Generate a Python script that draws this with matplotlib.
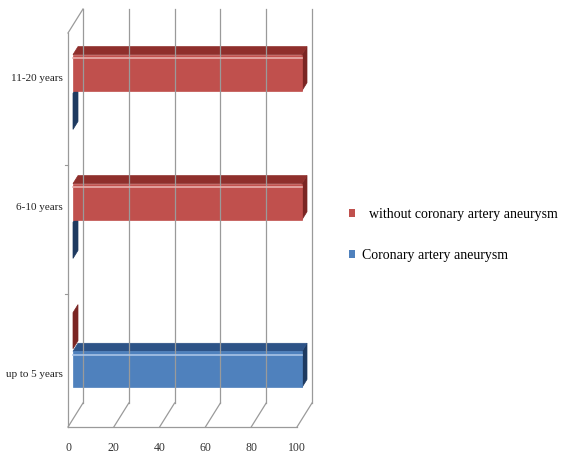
import numpy as np
import matplotlib
matplotlib.use("Agg")
import matplotlib.pyplot as plt
from matplotlib.patches import Polygon, Patch

# ---- data ----
CATEGORIES = ["up to 5 years", "6-10 years", "11-20 years"]
SERIES = ["  without coronary artery aneurysm", "Coronary artery aneurysm"]
WITHOUT_CAA = [0, 100, 100]
WITH_CAA = [100, 0, 0]
X_TICKS = [0, 20, 40, 60, 80, 100]

# ---- 3d-ish look (Excel style) ----
RED = {"front": "#C0504D", "top": "#8F2F2C", "side": "#7A2523", "hi": "#E8AFAD"}
BLUE = {"front": "#4F81BD", "top": "#2D5387", "side": "#1E3A60", "hi": "#A9C4E6"}
GRID = "#9A9A9A"
SERIF = "Liberation Serif"

W, H = 565, 461
fig = plt.figure(figsize=(W / 100, H / 100), dpi=100)

# pixel geometry of the reference
px_per_x = 2.29          # px per value unit
px_per_y = 129.0         # px per category
x0_px, y0_px = 68, 103   # front plane: x=0, category 0 (from bottom)
ax_l, ax_r, ax_b, ax_t = 0, 340, 0, 461
ax = fig.add_axes([ax_l / W, ax_b / H, (ax_r - ax_l) / W, (ax_t - ax_b) / H])
ax.set_xlim((ax_l - x0_px) / px_per_x, (ax_r - x0_px) / px_per_x)
ax.set_ylim((ax_b - y0_px) / px_per_y, (ax_t - y0_px) / px_per_y)
ax.axis("off")

DX = 15 / px_per_x       # full depth offset in data units
DY = 24 / px_per_y
y_floor = (34 - y0_px) / px_per_y
y_top = (428 - y0_px) / px_per_y


def at(x, y, d):
    return (x + d * DX, y + d * DY)


# back wall gridlines + floor gridlines
for v in X_TICKS:
    ax.plot(*zip(at(v, y_floor, 1), at(v, y_top, 1)), color=GRID, lw=0.9)
    ax.plot(*zip(at(v, y_floor, 0), at(v, y_floor, 1)), color=GRID, lw=0.9)
    ax.text(v, y_floor - 0.165, str(v), ha="center", va="center",
            fontsize=8.5, family=SERIF, color="#333333")
# floor front edge, left wall
ax.plot([0, 100], [y_floor, y_floor], color=GRID, lw=0.9)
ax.plot(*zip(at(0, y_floor, 0), at(0, y_top, 0)), color=GRID, lw=0.9)
ax.plot(*zip(at(0, y_top, 0), at(0, y_top, 1)), color=GRID, lw=0.9)
for yb in [0.5, 1.5]:
    ax.plot([-1.2, 0], [yb, yb], color=GRID, lw=0.8)

# bars
bar_h = 0.28
offs = 0.15
d0, d1 = 1 / 3, 2 / 3
ypos = np.arange(len(CATEGORIES))
for vals, off, col in [(WITH_CAA, -offs, BLUE), (WITHOUT_CAA, offs, RED)]:
    for yc, v in zip(ypos, vals):
        yb, yt = yc + off - bar_h / 2, yc + off + bar_h / 2
        front = [at(0, yb, d0), at(v, yb, d0), at(v, yt, d0), at(0, yt, d0)]
        top = [at(0, yt, d0), at(v, yt, d0), at(v, yt, d1), at(0, yt, d1)]
        side = [at(v, yb, d0), at(v, yb, d1), at(v, yt, d1), at(v, yt, d0)]
        ax.add_patch(Polygon(side, closed=True, fc=col["side"], ec=col["side"], lw=0.5))
        if v > 0:
            ax.add_patch(Polygon(top, closed=True, fc=col["top"], ec=col["top"], lw=0.5))
            ax.add_patch(Polygon(front, closed=True, fc=col["front"], ec=col["front"], lw=0.5))
            hy = yt - 0.03
            ax.plot(*zip(at(0, hy, d0), at(v, hy, d0)), color=col["hi"], lw=1.2)

# category labels, next to the bar that carries the value
for yc, lab, a, b in zip(ypos, CATEGORIES, WITHOUT_CAA, WITH_CAA):
    ly = yc + (offs if a >= b else -offs) + 0.02
    ax.text(-2.3, ly, lab, ha="right", va="center", fontsize=8,
            family=SERIF, color="#222222")

handles = [Patch(fc=RED["front"], ec="none"), Patch(fc=BLUE["front"], ec="none")]
fig.legend(handles, SERIES, loc="upper left", bbox_to_anchor=(336 / W, 1 - 195 / H),
           frameon=False, handlelength=0.5, handleheight=0.5, handletextpad=0.5,
           labelspacing=2.05, prop={"family": SERIF, "size": 10})

fig.savefig("out.png", dpi=100, facecolor="white")
